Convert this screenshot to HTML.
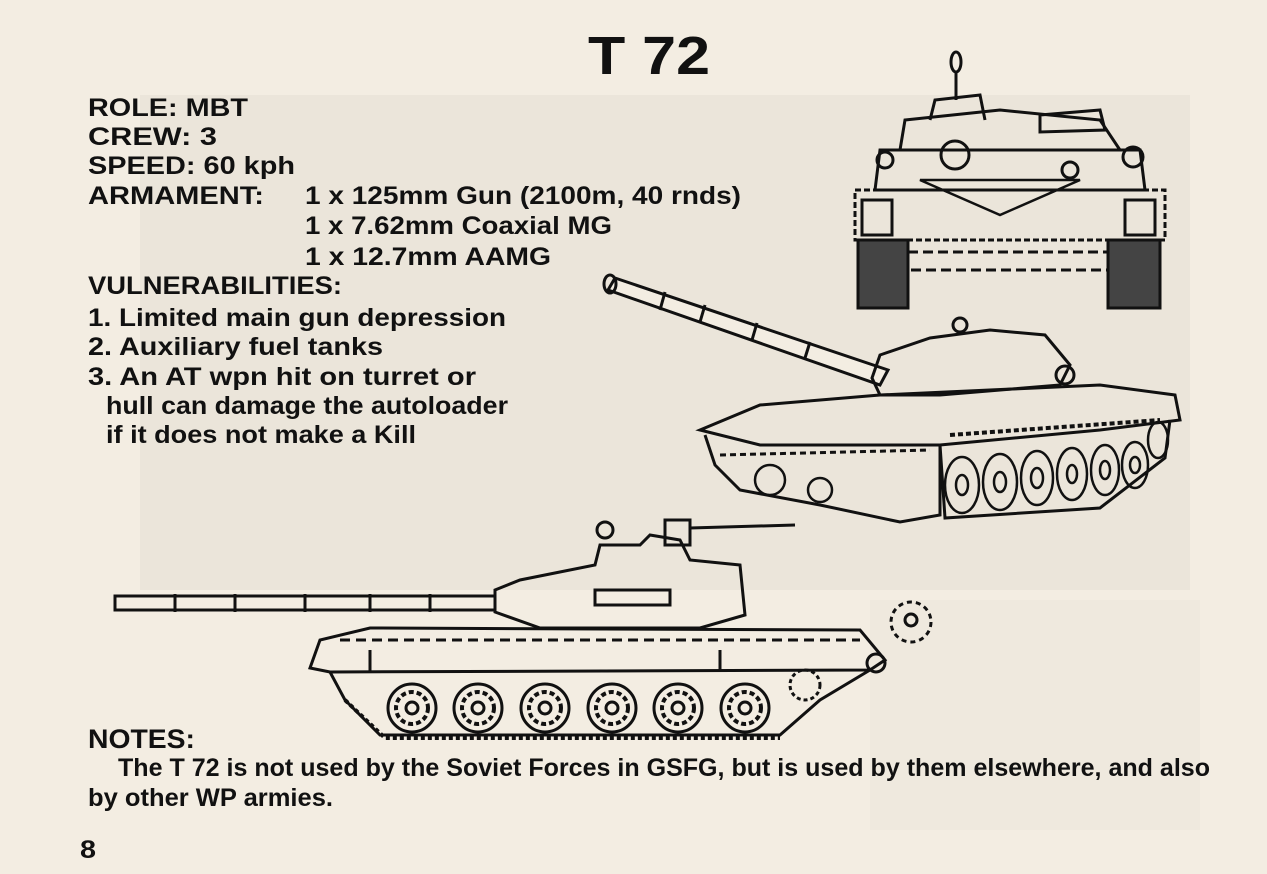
<!DOCTYPE html>
<html><head><meta charset="utf-8"><style>
html,body{margin:0;padding:0;background:#f3ede2;}
svg{display:block;}
text{font-family:"Liberation Sans",sans-serif;font-weight:bold;fill:#111;}
</style></head><body>
<svg width="1267" height="874" viewBox="0 0 1267 874" xmlns="http://www.w3.org/2000/svg">
<rect width="1267" height="874" fill="#f3ede2"/>
<rect x="140" y="95" width="1050" height="495" fill="#ebe5da"/>
<rect x="870" y="600" width="330" height="230" fill="#efe9de"/>
<text x="588" y="74" font-size="54" textLength="122" lengthAdjust="spacingAndGlyphs">T 72</text>
<g font-size="25">
<text x="88" y="116" textLength="160" lengthAdjust="spacingAndGlyphs">ROLE:  MBT</text>
<text x="88" y="145" textLength="129" lengthAdjust="spacingAndGlyphs">CREW:  3</text>
<text x="88" y="174" textLength="207" lengthAdjust="spacingAndGlyphs">SPEED:  60 kph</text>
<text x="88" y="204" textLength="176" lengthAdjust="spacingAndGlyphs">ARMAMENT:</text>
<text x="305" y="204" textLength="436" lengthAdjust="spacingAndGlyphs">1 x 125mm Gun (2100m, 40 rnds)</text>
<text x="305" y="234" textLength="307" lengthAdjust="spacingAndGlyphs">1 x 7.62mm Coaxial MG</text>
<text x="305" y="265" textLength="246" lengthAdjust="spacingAndGlyphs">1 x 12.7mm AAMG</text>
<text x="88" y="294" textLength="254" lengthAdjust="spacingAndGlyphs">VULNERABILITIES:</text>
<text x="88" y="326" textLength="418" lengthAdjust="spacingAndGlyphs">1.   Limited main gun depression</text>
<text x="88" y="355" textLength="295" lengthAdjust="spacingAndGlyphs">2.   Auxiliary fuel tanks</text>
<text x="88" y="385" textLength="388" lengthAdjust="spacingAndGlyphs">3.   An AT wpn hit on turret or</text>
<text x="106" y="414" textLength="402" lengthAdjust="spacingAndGlyphs">hull can damage the autoloader</text>
<text x="106" y="443" textLength="310" lengthAdjust="spacingAndGlyphs">if it does not make a Kill</text>
<text x="88" y="748" font-size="27" textLength="107" lengthAdjust="spacingAndGlyphs">NOTES:</text>
<text x="118" y="776" textLength="1092" lengthAdjust="spacingAndGlyphs">The T 72 is not used by the Soviet Forces in GSFG, but is used by them elsewhere, and also</text>
<text x="88" y="806" textLength="245" lengthAdjust="spacingAndGlyphs">by other WP armies.</text>
<text x="80" y="858" textLength="16" lengthAdjust="spacingAndGlyphs">8</text>
</g>
<!-- front view -->
<g stroke="#111" stroke-width="3" fill="none">
<ellipse cx="956" cy="62" rx="5" ry="10"/>
<line x1="956" y1="72" x2="956" y2="100"/>
<path d="M930 120 L935 100 L980 95 L985 120" />
<path d="M1040 115 L1100 110 L1105 130 L1040 132 Z"/>
<path d="M900 150 L905 120 L1000 110 L1100 120 L1120 150 Z"/>
<path d="M880 150 L1140 150 L1145 190 L875 190 Z"/>
<circle cx="955" cy="155" r="14"/><circle cx="1133" cy="157" r="10"/><circle cx="885" cy="160" r="8"/><circle cx="1070" cy="170" r="8"/>
<path d="M920 180 L1000 215 L1080 180 Z" stroke-width="2.5"/>
<rect x="855" y="190" width="310" height="50" stroke-dasharray="6 3"/>
<rect x="862" y="200" width="30" height="35"/><rect x="1125" y="200" width="30" height="35"/>
<rect x="858" y="240" width="50" height="68" fill="#444"/>
<rect x="1108" y="240" width="52" height="68" fill="#444"/>
<path d="M908 252 L1108 252 L1108 270 L908 270" stroke-dasharray="10 5"/>
</g>
<!-- three quarter view -->
<g stroke="#111" stroke-width="3" fill="none">
<path d="M608 290 L880 385 L888 370 L615 278 Z" fill="#f3ede2"/>
<ellipse cx="610" cy="284" rx="6" ry="9"/>
<line x1="665" y1="292" x2="660" y2="310"/><line x1="705" y1="305" x2="700" y2="322"/><line x1="757" y1="323" x2="752" y2="340"/><line x1="810" y1="342" x2="805" y2="358"/>
<path d="M872 378 L880 355 L930 338 L990 330 L1045 335 L1070 365 L1060 385 L940 395 L880 395 Z"/>
<circle cx="960" cy="325" r="7"/><circle cx="1065" cy="375" r="9"/>
<path d="M700 430 L760 405 L880 395 L1100 385 L1175 395 L1180 420 L1100 430 L940 445 L760 445 Z"/>
<path d="M705 435 L715 465 L740 490 L820 505 L900 522 L940 515 L940 445"/>
<path d="M720 455 L930 450" stroke-dasharray="6 4"/>
<path d="M940 445 L945 518 L1100 508 L1165 458 L1170 420"/>
<path d="M950 435 L1160 420" stroke-dasharray="5 3" stroke-width="4"/>
<g stroke-width="2.5">
<ellipse cx="962" cy="485" rx="17" ry="28"/><ellipse cx="1000" cy="482" rx="17" ry="28"/><ellipse cx="1037" cy="478" rx="16" ry="27"/><ellipse cx="1072" cy="474" rx="15" ry="26"/><ellipse cx="1105" cy="470" rx="14" ry="25"/><ellipse cx="1135" cy="465" rx="13" ry="23"/><ellipse cx="1158" cy="440" rx="10" ry="18"/>
<ellipse cx="962" cy="485" rx="6" ry="10"/><ellipse cx="1000" cy="482" rx="6" ry="10"/><ellipse cx="1037" cy="478" rx="6" ry="10"/><ellipse cx="1072" cy="474" rx="5" ry="9"/><ellipse cx="1105" cy="470" rx="5" ry="9"/><ellipse cx="1135" cy="465" rx="5" ry="8"/>
<ellipse cx="770" cy="480" rx="15" ry="15"/><ellipse cx="820" cy="490" rx="12" ry="12"/>
</g>
</g>
<!-- side view -->
<g stroke="#111" stroke-width="3" fill="none">
<rect x="115" y="596" width="380" height="14" fill="#f3ede2"/>
<line x1="175" y1="594" x2="175" y2="612"/><line x1="235" y1="594" x2="235" y2="612"/><line x1="305" y1="594" x2="305" y2="612"/><line x1="370" y1="594" x2="370" y2="612"/><line x1="430" y1="594" x2="430" y2="612"/>
<path d="M495 590 L520 580 L595 565 L600 545 L640 545 L650 535 L680 540 L690 560 L740 565 L745 615 L700 628 L540 628 L495 612 Z"/>
<rect x="665" y="520" width="25" height="25"/>
<line x1="690" y1="528" x2="795" y2="525"/>
<circle cx="605" cy="530" r="8"/>
<path d="M595 590 L670 590 L670 605 L595 605 Z"/>
<path d="M310 668 L320 640 L370 628 L860 630 L885 660 L870 670 L330 672 Z"/>
<path d="M340 640 L860 640" stroke-dasharray="10 6"/>
<line x1="370" y1="650" x2="370" y2="672"/><line x1="720" y1="650" x2="720" y2="672"/>
<path d="M330 672 L345 700 L380 735 L780 735 L820 700 L870 670"/>
<path d="M345 700 L385 738 L780 738" stroke-dasharray="4 3" stroke-width="4"/>
<circle cx="876" cy="663" r="9"/>
<g stroke-width="3">
<circle cx="412" cy="708" r="24"/><circle cx="478" cy="708" r="24"/><circle cx="545" cy="708" r="24"/><circle cx="612" cy="708" r="24"/><circle cx="678" cy="708" r="24"/><circle cx="745" cy="708" r="24"/>
<circle cx="412" cy="708" r="16" stroke-dasharray="5 3" stroke-width="4"/><circle cx="478" cy="708" r="16" stroke-dasharray="5 3" stroke-width="4"/><circle cx="545" cy="708" r="16" stroke-dasharray="5 3" stroke-width="4"/><circle cx="612" cy="708" r="16" stroke-dasharray="5 3" stroke-width="4"/><circle cx="678" cy="708" r="16" stroke-dasharray="5 3" stroke-width="4"/><circle cx="745" cy="708" r="16" stroke-dasharray="5 3" stroke-width="4"/>
<circle cx="412" cy="708" r="6"/><circle cx="478" cy="708" r="6"/><circle cx="545" cy="708" r="6"/><circle cx="612" cy="708" r="6"/><circle cx="678" cy="708" r="6"/><circle cx="745" cy="708" r="6"/>
</g>
<circle cx="805" cy="685" r="15" stroke-dasharray="4 3"/>
<circle cx="911" cy="622" r="20" stroke-dasharray="5 4"/>
<circle cx="911" cy="620" r="6"/>
</g>
</svg>
</body></html>
